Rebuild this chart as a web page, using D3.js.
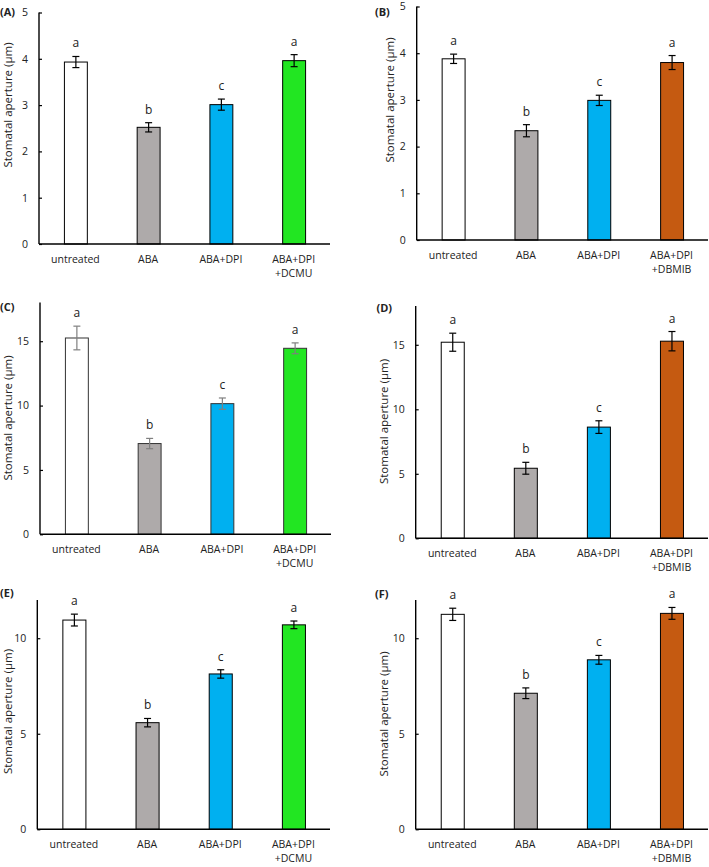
<!DOCTYPE html>
<html>
<head>
<meta charset="utf-8">
<script src="https://cdn.jsdelivr.net/npm/d3@7"></script>
<style>
  html, body { margin: 0; padding: 0; background: #fff; }
  svg { display: block; }
  text { font-family: "Open Sans", "Noto Sans", sans-serif; fill: #222; }
</style>
</head>
<body>
<svg id="chart" width="709" height="867"></svg>
<script>
// ---------- data ----------
const categoriesDCMU  = ["untreated", "ABA", "ABA+DPI", "ABA+DPI|+DCMU"];
const categoriesDBMIB = ["untreated", "ABA", "ABA+DPI", "ABA+DPI|+DBMIB"];
const sigLetters = ["a", "b", "c", "a"];

const valuesA = [3.93, 2.52, 3.01, 3.96];
const errorsA = [0.12, 0.10, 0.12, 0.13];
const valuesB = [3.88, 2.34, 2.99, 3.80];
const errorsB = [0.10, 0.13, 0.11, 0.15];
const valuesC = [15.25, 7.05, 10.15, 14.45];
const errorsC = [0.92, 0.40, 0.44, 0.42];
const valuesD = [15.20, 5.43, 8.62, 15.28];
const errorsD = [0.70, 0.46, 0.49, 0.75];
const valuesE = [10.95, 5.58, 8.13, 10.70];
const errorsE = [0.31, 0.22, 0.22, 0.20];
const valuesF = [11.25, 7.12, 8.87, 11.30];
const errorsF = [0.32, 0.28, 0.23, 0.31];

const ticksAB = [0, 1, 2, 3, 4, 5];
const ticksCD = [0, 5, 10, 15];
const ticksEF = [0, 5, 10];
const yMaxAB = 5, yMaxCD = 18, yMaxEF = 12;

const colorsDCMU  = ["#ffffff", "#aeaaaa", "#00b0f0", "#22e622"];
const colorsDBMIB = ["#ffffff", "#aeaaaa", "#00b0f0", "#c55a11"];

// ---------- layout ----------
const panels = [
  { tag: "(A)", cats: categoriesDCMU,  vals: valuesA, errs: errorsA, ticks: ticksAB, ymax: yMaxAB, colors: colorsDCMU,
    ax: 39, right: 330, base: 244, top: 12.5, tagX: 0, tagY: 16, labX: 8, labY: 105, errColor: "#000", stroke: "#000" },
  { tag: "(B)", cats: categoriesDBMIB, vals: valuesB, errs: errorsB, ticks: ticksAB, ymax: yMaxAB, colors: colorsDBMIB,
    ax: 416.7, right: 708, base: 240, top: 6.5, tagX: 375, tagY: 15.5, labX: 390, labY: 100, errColor: "#000", stroke: "#000" },
  { tag: "(C)", cats: categoriesDCMU,  vals: valuesC, errs: errorsC, ticks: ticksCD, ymax: yMaxCD, colors: colorsDCMU,
    ax: 40, right: 331, base: 534.3, top: 302.6, tagX: 0, tagY: 310.5, labX: 8, labY: 418, errColor: "#7f7f7f", stroke: "#333" },
  { tag: "(D)", cats: categoriesDBMIB, vals: valuesD, errs: errorsD, ticks: ticksCD, ymax: yMaxCD, colors: colorsDBMIB,
    ax: 415.7, right: 708, base: 538.3, top: 306.1, tagX: 376.5, tagY: 311.5, labX: 384, labY: 421.5, errColor: "#000", stroke: "#000" },
  { tag: "(E)", cats: categoriesDCMU,  vals: valuesE, errs: errorsE, ticks: ticksEF, ymax: yMaxEF, colors: colorsDCMU,
    ax: 37.3, right: 330, base: 829.3, top: 600, tagX: 0, tagY: 596.5, labX: 8, labY: 711.5, errColor: "#000", stroke: "#000" },
  { tag: "(F)", cats: categoriesDBMIB, vals: valuesF, errs: errorsF, ticks: ticksEF, ymax: yMaxEF, colors: colorsDBMIB,
    ax: 415.7, right: 708, base: 829.3, top: 600, tagX: 375, tagY: 598, labX: 384, labY: 714, errColor: "#000", stroke: "#000" }
];

const svg = d3.select("#chart");

panels.forEach(p => {
  const g = svg.append("g");
  const x = d3.scaleBand().domain(p.cats).range([p.ax, p.right]).paddingInner(0.685).paddingOuter(0.3425);
  const y = d3.scaleLinear().domain([0, p.ymax]).range([p.base, p.top]);

  const rows = p.cats.map((c, i) => ({ cat: c, v: p.vals[i], e: p.errs[i], col: p.colors[i], sig: sigLetters[i] }));

  // bars
  g.selectAll("rect.bar").data(rows).enter().append("rect")
    .attr("class", "bar")
    .attr("x", d => x(d.cat) + 0.5)
    .attr("width", x.bandwidth())
    .attr("y", d => y(d.v))
    .attr("height", d => y(0) - y(d.v))
    .attr("fill", d => d.col)
    .attr("stroke", p.stroke)
    .attr("stroke-width", 1);

  // error bars
  const cap = 3.5;
  rows.forEach(d => {
    const cx = x(d.cat) + x.bandwidth() / 2 + 0.5;
    const y1 = y(d.v + d.e), y2 = y(d.v - d.e);
    g.append("line").attr("x1", cx).attr("x2", cx).attr("y1", y1).attr("y2", y2)
      .attr("stroke", p.errColor).attr("stroke-width", 1.2);
    [y1, y2].forEach(yy => g.append("line").attr("x1", cx - cap).attr("x2", cx + cap).attr("y1", yy).attr("y2", yy)
      .attr("stroke", p.errColor).attr("stroke-width", 1.2));
    g.append("text").attr("x", cx).attr("y", y1 - 9).attr("text-anchor", "middle")
      .style("font-size", "12px").text(d.sig);
  });

  // y axis
  const yAxis = d3.axisLeft(y).tickValues(p.ticks).tickSize(-3).tickPadding(11).tickFormat(d3.format("d"));
  const ya = g.append("g").attr("transform", `translate(${p.ax},0)`).call(yAxis);
  ya.select(".domain").remove();
  ya.selectAll(".tick line").attr("stroke", "#000").attr("stroke-width", 1.2);
  ya.selectAll(".tick text").style("font-size", "10.5px").style("font-family", "'Open Sans', sans-serif").attr("fill", "#222");
  g.append("line").attr("x1", p.ax).attr("x2", p.ax).attr("y1", p.top).attr("y2", p.base)
    .attr("stroke", "#000").attr("stroke-width", 1.4);

  // x axis
  const xAxis = d3.axisBottom(x).tickSize(0).tickPadding(0).tickFormat("");
  const xa = g.append("g").attr("transform", `translate(0,${p.base})`).call(xAxis);
  xa.select(".domain").remove();
  g.append("line").attr("x1", p.ax).attr("x2", p.right).attr("y1", p.base).attr("y2", p.base)
    .attr("stroke", "#000").attr("stroke-width", 1.4);
  rows.forEach(d => {
    const parts = d.cat.split("|");
    const t = g.append("text").attr("x", x(d.cat) + x.bandwidth() / 2)
      .attr("y", p.base + 19).attr("text-anchor", "middle").style("font-size", "10.5px");
    parts.forEach((s, k) => t.append("tspan").attr("x", x(d.cat) + x.bandwidth() / 2).attr("dy", k === 0 ? 0 : 13.5).text(s));
  });

  // y label
  g.append("text").attr("transform", `translate(${p.labX + 4},${p.labY}) rotate(-90)`)
    .attr("text-anchor", "middle").style("font-size", "11.5px").attr("fill", "#444")
    .text("Stomatal aperture (µm)");

  // panel tag
  g.append("text").attr("x", p.tagX).attr("y", p.tagY).style("font-size", "11px").style("font-weight", "bold")
    .text(p.tag);
});
</script>
</body>
</html>
